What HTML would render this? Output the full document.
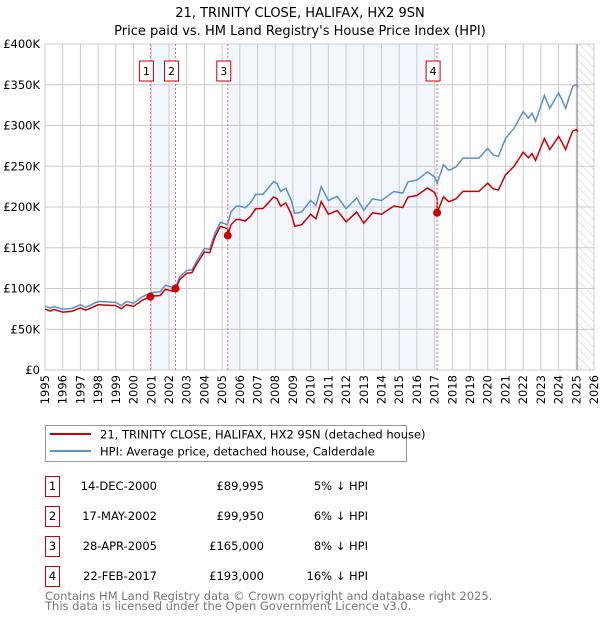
<!DOCTYPE html>
<html><head><meta charset="utf-8"><style>
body{margin:0;background:#fff;font-family:"Liberation Sans","DejaVu Sans",sans-serif;}
svg text{font-family:"DejaVu Sans","Liberation Sans",sans-serif;}
</style></head><body>
<svg id="chart" width="600" height="620" viewBox="0 0 600 620" xmlns="http://www.w3.org/2000/svg">
<defs><pattern id="hatch" width="6" height="6" patternUnits="userSpaceOnUse" patternTransform="rotate(-45)"><line x1="0" y1="0" x2="0" y2="6" stroke="#ccc" stroke-width="1"/></pattern></defs>
<text x="300" y="17" text-anchor="middle" font-size="13">21, TRINITY CLOSE, HALIFAX, HX2 9SN</text>
<text x="300" y="35" text-anchor="middle" font-size="13">Price paid vs. HM Land Registry's House Price Index (HPI)</text>
<g id="shade"></g><g id="grid"></g><g id="axes"></g><g id="series"></g><g id="markers"></g>
<rect x="45.5" y="425.5" width="361" height="36" fill="#fff" stroke="#999"/>
<line x1="50" y1="434" x2="91" y2="434" stroke="#cc0000" stroke-width="2"/>
<text x="100" y="438.5" font-size="11.5">21, TRINITY CLOSE, HALIFAX, HX2 9SN (detached house)</text>
<line x1="50" y1="451" x2="91" y2="451" stroke="#5b8fd0" stroke-width="2"/>
<text x="100" y="455.5" font-size="11.5">HPI: Average price, detached house, Calderdale</text>
<g id="table"></g>
<text x="45" y="600" font-size="11.5" fill="#777">Contains HM Land Registry data © Crown copyright and database right 2025.</text>
<text x="45" y="610" font-size="11.5" fill="#777">This data is licensed under the Open Government Licence v3.0.</text>
</svg>
<script>
const hpiYears=[1995.0,1995.3,1995.5,1996.0,1996.5,1997.0,1997.3,1998.0,1999.0,1999.3,1999.6,2000.0,2000.5,2001.0,2001.5,2001.8,2002.2,2002.4,2002.6,2003.0,2003.3,2003.6,2004.0,2004.3,2004.6,2004.9,2005.1,2005.3,2005.5,2005.8,2006.0,2006.3,2006.6,2006.9,2007.3,2007.6,2007.9,2008.1,2008.3,2008.6,2008.9,2009.1,2009.5,2010.0,2010.3,2010.6,2011.0,2011.5,2012.0,2012.6,2013.0,2013.5,2014.0,2014.7,2015.2,2015.5,2016.0,2016.6,2017.0,2017.14,2017.5,2017.8,2018.2,2018.6,2019.5,2020.0,2020.3,2020.6,2021.0,2021.5,2022.0,2022.3,2022.5,2022.7,2023.2,2023.5,2024.0,2024.2,2024.4,2024.6,2024.8,2025.0,2025.1];
const hpiValues=[78.5,76,78,74.5,75.5,80,77,84,83,79,84,82,90,95,96,104,101.5,103,114,122,123,135,149,148,168,181,180,178,194,201,201,199,205,215.5,215.5,223,231,229,219,223,208.6,192,194,208,202,225,208,213,198,211,196,210,208,219,217,231,233,243,237,229,252,245,249,260,260,272,264,262,284,297,317,309,315,305,337,321,340,331,321,335,348,350,347];
const saleLabels=["1","2","3","4"];
const saleDates=["14-DEC-2000","17-MAY-2002","28-APR-2005","22-FEB-2017"];
const saleYears=[2000.95,2002.37,2005.32,2017.14];
const salePrices=[89995,99950,165000,193000];
const salePriceText=["£89,995","£99,950","£165,000","£193,000"];
const saleDiffText=["5% ↓ HPI","6% ↓ HPI","8% ↓ HPI","16% ↓ HPI"];
const yTicks=[0,50,100,150,200,250,300,350,400];
const yTickLabels=["£0","£50K","£100K","£150K","£200K","£250K","£300K","£350K","£400K"];
const xStart=1995,xEnd=2026;
const NS="http://www.w3.org/2000/svg";
const X=y=>45+(y-xStart)*(594-45)/(xEnd-xStart);
const Y=v=>370-v*(370-44)/400;
function mk(tag,attrs,parent,txt){const e=document.createElementNS(NS,tag);for(const k in attrs)e.setAttribute(k,attrs[k]);if(txt!==undefined)e.textContent=txt;parent.appendChild(e);return e;}
const shade=document.getElementById('shade'),grid=document.getElementById('grid'),axes=document.getElementById('axes'),series=document.getElementById('series'),markers=document.getElementById('markers'),table=document.getElementById('table');
function hpiAt(t){for(let i=0;i<hpiYears.length-1;i++){if(t>=hpiYears[i]&&t<=hpiYears[i+1]){const f=(t-hpiYears[i])/(hpiYears[i+1]-hpiYears[i]);return hpiValues[i]+f*(hpiValues[i+1]-hpiValues[i]);}}return hpiValues[hpiValues.length-1];}
[[0,1],[2,3]].forEach(p=>{const r=mk('rect',{x:X(saleYears[p[0]]),y:44,width:X(saleYears[p[1]])-X(saleYears[p[0]]),height:326,fill:'#eef3fc',opacity:0.75},shade);

});
const hx=X(2025.05);
const hr=mk('rect',{x:hx,y:44,width:594-hx,height:326,fill:'url(#hatch)'},shade);


for(let y=xStart;y<=xEnd;y++){const l=mk('line',{x1:X(y),x2:X(y),y1:44,y2:370,stroke:'#ccc','stroke-width':1},grid);


const t=mk('text',{x:0,y:0,'font-size':11.5,transform:`translate(${X(y)+4},${375}) rotate(-90)`,'text-anchor':'end'},axes,String(y));

}
yTicks.forEach((v,i)=>{const l=mk('line',{x1:45,x2:594,y1:Y(v),y2:Y(v),stroke:'#ccc','stroke-width':1},grid);


const t=mk('text',{x:40,y:Y(v)+4,'font-size':11.5,'text-anchor':'end'},axes,yTickLabels[i]);

});
const el=mk('line',{x1:hx,x2:hx,y1:44,y2:370,stroke:'#888','stroke-width':1},grid);


const hp=mk('polyline',{points:hpiYears.map((t,i)=>X(t)+','+Y(hpiValues[i])).join(' '),fill:'none',stroke:'#5b8fd0','stroke-width':1.5},series);


let pts=[];let ts=hpiYears.slice();saleYears.forEach(s=>{ts.push(s-0.0001);ts.push(s);});ts.sort((a,b)=>a-b);
ts.forEach(t=>{let k=-1;for(let i=0;i<saleYears.length;i++)if(t>=saleYears[i])k=i;const r=k<0?salePrices[0]/1000/hpiAt(saleYears[0]):salePrices[k]/1000/hpiAt(saleYears[k]);pts.push(X(t)+','+Y(hpiAt(t)*r));});
const pp=mk('polyline',{points:pts.join(' '),fill:'none',stroke:'#cc0000','stroke-width':1.5},series);


saleYears.forEach((s,i)=>{const x=X(s);
const dl=mk('line',{x1:x,x2:x,y1:44,y2:370,stroke:'#f07070','stroke-width':1,'stroke-dasharray':'2,2'},markers);


const pt=mk('circle',{cx:x,cy:Y(salePrices[i]/1000),r:4,fill:'#cc0000'},markers);


const b=mk('rect',{x:x-11,y:61,width:14,height:20,fill:'#fff',stroke:'#cc0000','stroke-width':1},markers);


const bt=mk('text',{x:x-4,y:75,'font-size':11,'text-anchor':'middle'},markers,saleLabels[i]);


const ry=476+i*30;
const tb=mk('rect',{x:45.5,y:ry+0.5,width:14,height:20,fill:'#fff',stroke:'#cc0000'},table);


const t0=mk('text',{x:52.5,y:ry+14,'font-size':11.5,'text-anchor':'middle'},table,saleLabels[i]);


const t1=mk('text',{x:157,y:ry+14,'font-size':11.5,'text-anchor':'end'},table,saleDates[i]);


const t2=mk('text',{x:264,y:ry+14,'font-size':11.5,'text-anchor':'end'},table,salePriceText[i]);


const t3=mk('text',{x:368,y:ry+14,'font-size':11.5,'text-anchor':'end'},table,saleDiffText[i]);

});
</script>
</body></html>
